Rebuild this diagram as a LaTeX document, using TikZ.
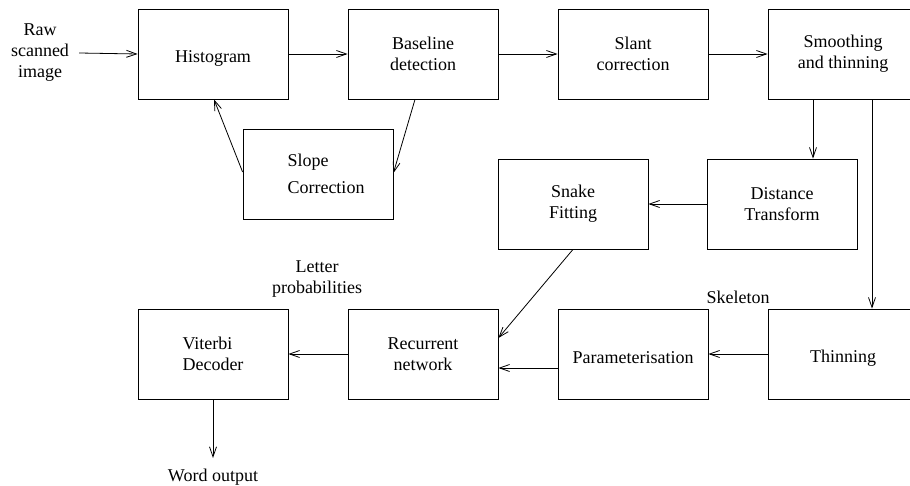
\documentclass[tikz,border=0pt]{standalone}
\usepackage{fontspec}
\setmainfont{Liberation Serif}
\usetikzlibrary{arrows.meta}

% lower a single text line inside its box without changing the box size
\newcommand{\oneline}[1]{\raisebox{-4pt}[\height][\depth]{#1}}

\begin{document}
\begin{tikzpicture}[x=1pt,y=-1pt,
  txt/.style={font=\fontsize{18}{21}\selectfont},
  stage/.style={txt, draw, line width=0.8pt, minimum width=150pt,
    minimum height=90pt, inner sep=0pt, align=center},
  lbl/.style={txt, inner sep=0pt, align=center},
  flow/.style={line width=0.8pt, -{Straight Barb[length=10pt,width=7pt]}}]
\useasboundingbox (0,0) rectangle (910,486);
\clip (0,0) rectangle (910,486);

% top row
\node[lbl] (raw) at (40,53) {Raw\\scanned\\image};
\node[stage] (hist)  at (213,54) {\oneline{Histogram}};
\node[stage] (base)  at (423,54) {Baseline\\detection};
\node[stage] (slant) at (633,54) {Slant\\correction};
\node[stage] (smooth) at (843,54) {Smoothing\\and thinning};

% feedback loop
\node[stage, align=left, font=\fontsize{18}{27}\selectfont] (slope) at (318,174)
  {\hspace*{16pt}Slope\\\hspace*{16pt}Correction};

% middle row
\node[stage] (snake) at (573,204) {Snake\\Fitting};
\node[stage] (dist)  at (782,204) {Distance\\Transform};

% bottom row
\node[stage, align=left] (viterbi) at (213,354) {Viterbi\\Decoder};
\node[stage] (rec)   at (423,354) {Recurrent\\network};
\node[stage] (param) at (633,354) {\oneline{Parameterisation}};
\node[stage] (thin)  at (843,354) {\oneline{Thinning}};

% annotations
\node[lbl] (letters) at (317,279) {Letter\\probabilities};
\node[lbl] (skel) at (738,297) {Skeleton};
\node[lbl] (word) at (213,477) {Word output};
\coordinate (wordtip) at (213,458);

% connectors
\draw[flow] ([xshift=10pt]raw.east) -- (hist.west);
\draw[flow] (hist) -- (base);
\draw[flow] (base) -- (slant);
\draw[flow] (slant) -- (smooth);
\draw[flow] ([xshift=-8pt]base.south) -- ([yshift=1pt]slope.east);
\draw[flow] ([yshift=2pt]slope.west) -- ([xshift=1pt]hist.south);
\draw[flow] ([xshift=-30pt]smooth.south) -- ([xshift=-30pt]smooth.south |- dist.north);
\draw[flow] ([xshift=29pt]smooth.south) -- ([xshift=29pt]smooth.south |- thin.north);
\draw[flow] (dist) -- (snake);
\draw[flow] (snake.south) -- ([yshift=16pt]rec.east);
\draw[flow] (thin) -- (param);
\draw[flow] ([yshift=-14pt]param.west) -- ([yshift=-14pt]rec.east);
\draw[flow] (rec) -- (viterbi);
\draw[flow] (viterbi.south) -- (wordtip);
\end{tikzpicture}
\end{document}
